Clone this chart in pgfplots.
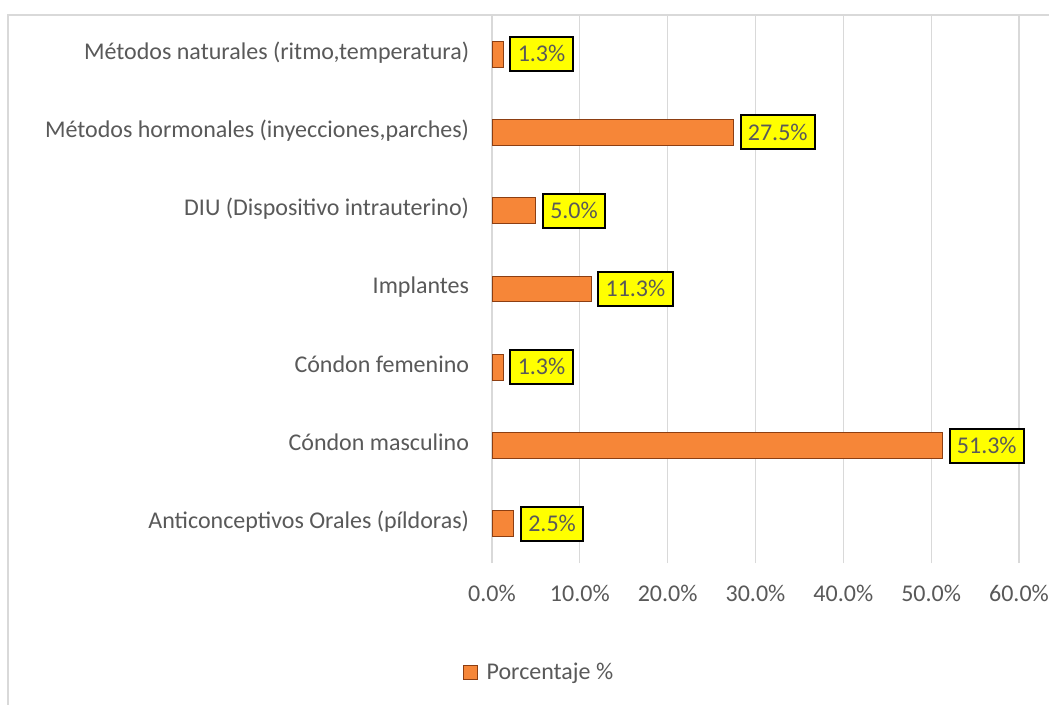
\documentclass[border=0pt]{standalone}
\usepackage{fontspec}
\setmainfont{Carlito}
\usepackage{pgfplots}
\pgfplotsset{compat=1.18}
\definecolor{barorange}{RGB}{246,134,56}
\definecolor{baredge}{RGB}{140,62,18}
\definecolor{txtgray}{RGB}{89,89,89}
\definecolor{gridgray}{RGB}{217,217,217}
\definecolor{lblyellow}{RGB}{255,255,0}
\newcommand{\lblfont}{\fontsize{18}{21}\selectfont}

\begin{document}
\begin{tikzpicture}
\useasboundingbox (0,0) rectangle (786.75pt,528pt);
\fill[white] (0,0) rectangle (786.75pt,528pt);
\draw[gridgray, line width=1.1pt] (6pt,-10pt) -- (6pt,516.75pt) -- (800pt,516.75pt);
\begin{axis}[
  at={(369pt,105.75pt)}, anchor=south west,
  scale only axis, width=395.25pt, height=411pt,
  xbar, bar width=0.33,
  xmin=0, xmax=60, ymin=-0.5, ymax=6.5,
  xtick={0,10,...,60},
  xticklabels={0.0\%,10.0\%,20.0\%,30.0\%,40.0\%,50.0\%,60.0\%},
  ytick={0,...,6},
  yticklabels={{Anticonceptivos Orales (píldoras)},{Cóndon masculino},{Cóndon femenino},{Implantes},{DIU (Dispositivo intrauterino)},{Métodos hormonales (inyecciones,parches)},{Métodos naturales (ritmo,temperatura)}},
  xmajorgrids, ymajorgrids=false,
  grid style={gridgray, line width=0.8pt},
  axis line style={draw=none},
  major tick length=0pt,
  tick label style={font=\lblfont, text=txtgray, inner sep=0pt},
  xticklabel style={anchor=north, yshift=-16.5pt},
  yticklabel style={anchor=east, xshift=-17pt, text height=0.9em, text depth=0.15em},
  point meta=explicit symbolic,
  nodes near coords,
  every node near coord/.append style={anchor=west, xshift=4.5pt, fill=lblyellow, draw=black, line width=1.5pt, text=txtgray, font=\lblfont, inner xsep=5.5pt, inner ysep=7pt, text height=11.5pt, text depth=0pt},
  legend style={at={(0.09,-0.2)}, anchor=center, draw=none, fill=none, font=\lblfont, text=txtgray, inner sep=0pt},
  legend image code/.code={\draw[#1, line width=0.8pt] (0pt,-5.25pt) rectangle (10.5pt,5.25pt); \path (15pt,0pt);},
]
\addplot[fill=barorange, draw=baredge, line width=0.7pt] coordinates {
  (2.5,0) [2.5\%]
  (51.3,1) [51.3\%]
  (1.3,2) [1.3\%]
  (11.3,3) [11.3\%]
  (5.0,4) [5.0\%]
  (27.5,5) [27.5\%]
  (1.3,6) [1.3\%]
};
\legend{Porcentaje \%}
\end{axis}
\end{tikzpicture}
\end{document}
